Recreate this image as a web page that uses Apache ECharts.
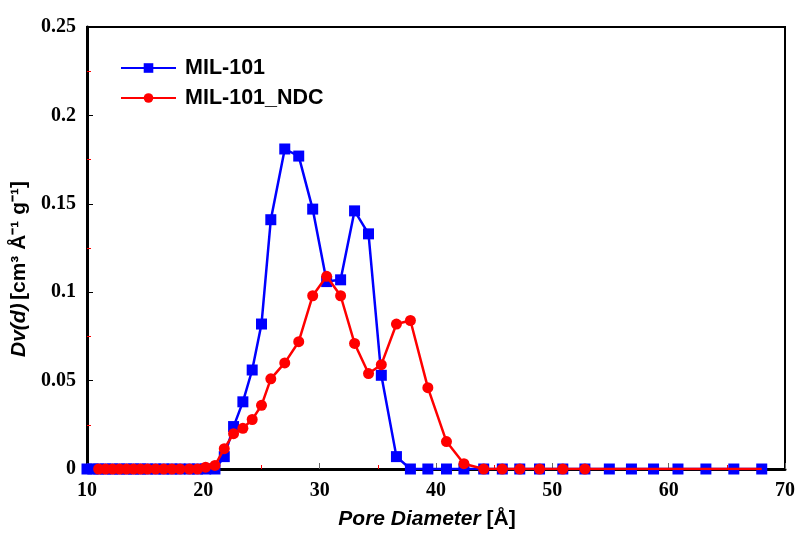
<!DOCTYPE html>
<html>
<head>
<meta charset="utf-8">
<script src="https://cdn.jsdelivr.net/npm/echarts@6/dist/echarts.min.js"></script>
<style>html,body{margin:0;padding:0;background:#fff}#c{width:799px;height:533px}</style>
</head>
<body>
<div id="c"></div>
<script>
// ---- data ----
const seriesNames = ["MIL-101", "MIL-101_NDC"];
const xTicks = [10, 20, 30, 40, 50, 60, 70];
const yTicks = [0, 0.05, 0.1, 0.15, 0.2, 0.25];

const poreMIL = [10.0, 10.5, 11.0, 11.6, 12.2, 12.8, 13.4, 14.0, 14.6, 15.2, 15.9, 16.6, 17.3, 18.0, 18.8, 19.5, 20.2,
  21.0, 21.8, 22.6, 23.4, 24.2, 25.0, 25.8, 27.0, 28.2, 29.4, 30.6, 31.8, 33.0, 34.2, 35.3, 36.6, 37.8,
  39.3, 40.9, 42.4, 44.1, 45.7, 47.2, 48.9, 50.9, 52.8, 54.9, 56.8, 58.7, 60.8, 63.2, 65.6, 68.0];
const dvMIL = [0, 0, 0, 0, 0, 0, 0, 0, 0, 0, 0, 0, 0, 0, 0, 0, 0,
  0, 0.007, 0.024, 0.038, 0.056, 0.082, 0.141, 0.181, 0.177, 0.147, 0.106, 0.107, 0.146, 0.133, 0.053, 0.007, 0,
  0, 0, 0, 0, 0, 0, 0, 0, 0, 0, 0, 0, 0, 0, 0, 0];

const poreNDC = [11.0, 11.6, 12.2, 12.8, 13.4, 14.0, 14.6, 15.2, 15.9, 16.6, 17.3, 18.0, 18.8, 19.5, 20.2,
  21.0, 21.8, 22.6, 23.4, 24.2, 25.0, 25.8, 27.0, 28.2, 29.4, 30.6, 31.8, 33.0, 34.2, 35.3, 36.6, 37.8,
  39.3, 40.9, 42.4, 44.1, 45.7, 47.2, 48.9, 50.9, 52.8, 54.9, 56.8, 58.7, 60.8, 63.2, 65.6, 68.0];
const dvNDC = [0, 0, 0, 0, 0, 0, 0, 0, 0, 0, 0, 0, 0, 0, 0.001,
  0.002, 0.0115, 0.020, 0.023, 0.028, 0.036, 0.051, 0.060, 0.072, 0.098, 0.109, 0.098, 0.071, 0.054, 0.059, 0.082, 0.084,
  0.046, 0.0155, 0.003, 0, 0, 0, 0, 0, 0, 0, 0, 0, 0, 0, 0, 0];
// NDC markers are shown only up to this pore diameter (line continues)
const ndcMarkerLimit = 53;

// ---- chart ----
const chart = echarts.init(document.getElementById('c'), null, {renderer: 'canvas'});
const blue = '#0000ff', red = '#ff0000';
const milData = poreMIL.map((x, i) => [x, dvMIL[i]]);
const ndcData = poreNDC.map((x, i) => x > ndcMarkerLimit ? {value: [x, dvNDC[i]], symbol: 'none'} : [x, dvNDC[i]]);

const tickFont = {fontFamily: 'Liberation Serif', fontSize: 20, fontWeight: 'bold', color: '#000'};
const nameRich = {
  i: {fontFamily: 'Liberation Sans', fontSize: 21, fontWeight: 'bold', fontStyle: 'italic', color: '#000'},
  b: {fontFamily: 'Liberation Sans', fontSize: 21, fontWeight: 'bold', color: '#000'}
};

chart.setOption({
  animation: false,
  backgroundColor: '#fff',
  grid: {left: 87, right: 14, top: 27, bottom: 64, outerBoundsMode: 'none', containLabel: false,
    show: true, borderColor: '#000', borderWidth: 2, backgroundColor: 'transparent'},
  legend: {
    left: 115, top: 52, orient: 'vertical', itemWidth: 55, itemHeight: 12, itemGap: 8,
    textStyle: {fontFamily: 'Liberation Sans', fontSize: 21.5, fontWeight: 'bold', color: '#000', padding: [0, 0, 0, 4]},
    data: seriesNames
  },
  xAxis: {
    type: 'value', min: xTicks[0], max: xTicks[xTicks.length - 1], interval: 10,
    name: '{i|Pore Diameter }{b|[Å]}', nameLocation: 'middle', nameGap: 40,
    nameTextStyle: {padding: [0, 18, 0, 0], rich: nameRich},
    axisLine: {onZero: false, lineStyle: {color: '#000', width: 3}},
    axisTick: {inside: true, length: 6, lineStyle: {color: '#666', width: 1}},
    minorTick: {show: true, splitNumber: 2, length: 4, lineStyle: {color: red, width: 1}},
    axisLabel: Object.assign({margin: 12}, tickFont),
    splitLine: {show: false}
  },
  yAxis: {
    type: 'value', min: yTicks[0], max: yTicks[yTicks.length - 1], interval: 0.05,
    name: '{i|Dv(d)} {b|[cm³ Å⁻¹ g⁻¹]}', nameLocation: 'middle', nameGap: 53, nameRotate: 90,
    nameTextStyle: {padding: [0, 0, 0, -42], rich: nameRich},
    axisLine: {show: true, lineStyle: {color: '#000', width: 3}},
    axisTick: {inside: true, length: 6, lineStyle: {color: '#000', width: 1}},
    minorTick: {show: true, splitNumber: 2, length: 4, lineStyle: {color: red, width: 1}},
    axisLabel: Object.assign({margin: 11}, tickFont),
    splitLine: {show: false}
  },
  series: [
    {name: seriesNames[0], type: 'line', data: milData, symbol: 'rect', symbolSize: 11, showAllSymbol: true,
      lineStyle: {color: blue, width: 2.5}, itemStyle: {color: blue}, z: 2},
    {name: seriesNames[1], type: 'line', data: ndcData, symbol: 'circle', symbolSize: 11, showAllSymbol: true,
      lineStyle: {color: red, width: 2.5}, itemStyle: {color: red}, z: 3}
  ]
});
</script>
</body>
</html>
